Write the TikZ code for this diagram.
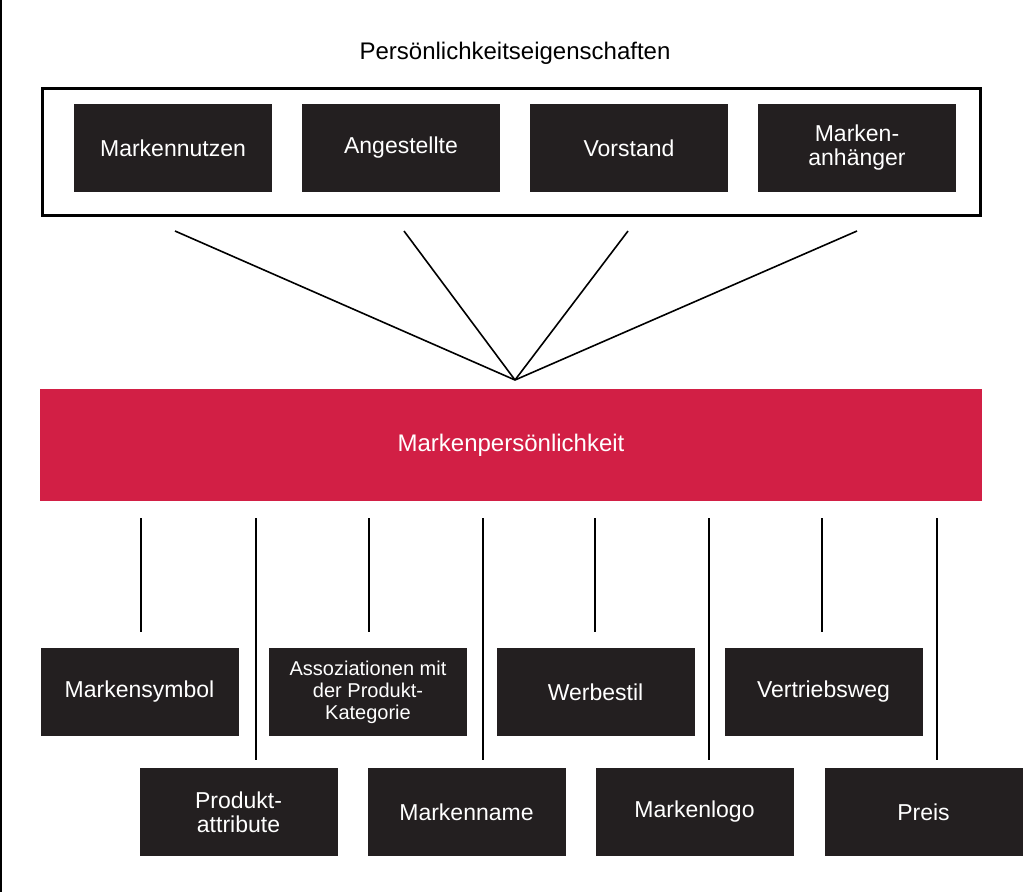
\documentclass[tikz,border=0pt]{standalone}
\usepackage{fontspec}
\setmainfont{Liberation Sans}
\usetikzlibrary{calc}
\definecolor{boxblack}{HTML}{231F20}
\definecolor{markred}{HTML}{D21F45}
\tikzset{
  blackbox/.style={fill=boxblack,text=white,minimum width=198pt,minimum height=88pt,
    inner sep=0pt,align=center,font=\fontsize{23}{24}\selectfont},
  link/.style={line width=1.6pt}
}
\begin{document}
\begin{tikzpicture}[x=1pt,y=-1pt]
  \useasboundingbox (0,0) rectangle (1030,892);
  \draw[line width=2pt] (1,0) -- (1,892);

  \node[font=\fontsize{24}{26}\selectfont] (title) at (515,53) {Persönlichkeitseigenschaften};
  \draw[line width=3pt] (42,88) rectangle (980,215);
  \node[blackbox] (nutzen) at (173,148) {Markennutzen};
  \node[blackbox] (angest) at (401,148) {Angestellte};
  \node[blackbox] (vorst)  at (629,148) {Vorstand};
  \node[blackbox] (anh)    at (857,148) {Marken-\\anhänger};

  \node[fill=markred,text=white,minimum width=942pt,minimum height=112pt,inner sep=0pt,
    font=\fontsize{24}{26}\selectfont] (mp) at (511,445) {Markenpersönlichkeit};

  \coordinate (apex) at (515,380);
  \foreach \x in {175,404,628,857}
    \draw[link] (\x,231) -- (apex);

  % upper row
  \node[blackbox] (symbol)  at (139.5,692) {Markensymbol};
  \node[blackbox,font=\fontsize{20}{22}\selectfont] (assoz) at (368,692) {Assoziationen mit\\der Produkt-\\Kategorie};
  \node[blackbox] (werbe)   at (595.5,692) {Werbestil};
  \node[blackbox] (vertrieb) at (823.5,692) {Vertriebsweg};
  % lower row
  \node[blackbox] (attr)  at (238.5,812) {Produkt-\\attribute};
  \node[blackbox] (mname) at (466.5,812) {Markenname};
  \node[blackbox] (logo)  at (694.5,812) {Markenlogo};
  \node[blackbox] (preis) at (923.5,812) {Preis};

  \foreach \x in {141,369,595,822}
    \draw[link] (\x,518) -- (\x,632);
  \foreach \x in {256,483,709,937}
    \draw[link] (\x,518) -- (\x,760);
\end{tikzpicture}
\end{document}
